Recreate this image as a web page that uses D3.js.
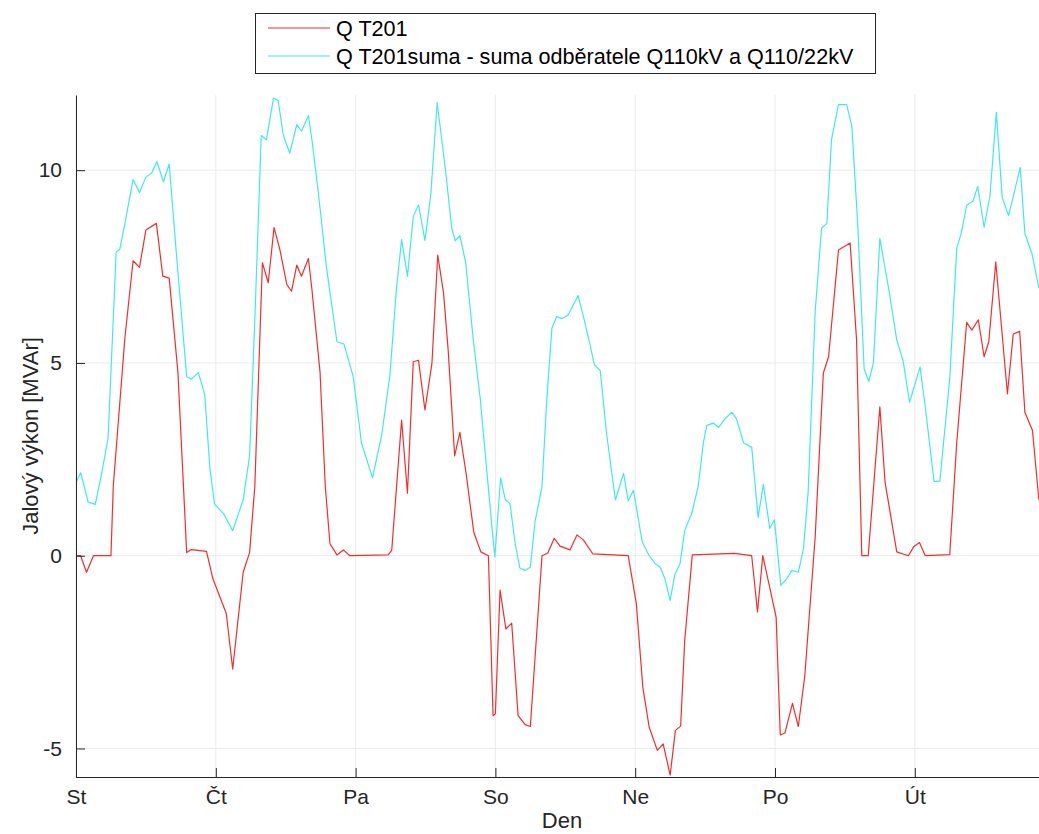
<!DOCTYPE html>
<html>
<head>
<meta charset="utf-8">
<script src="https://cdn.jsdelivr.net/npm/d3@7/dist/d3.min.js"></script>
<style>
  html, body { margin: 0; padding: 0; background: #fff; }
  svg { display: block; font-family: "Liberation Sans", Arial, Helvetica, sans-serif; }
</style>
</head>
<body>
<svg id="chart" width="1039" height="834"></svg>
<script>
// Day-of-week ticks (hours from start of the week)
const dayLabels = ["St", "Čt", "Pa", "So", "Ne", "Po", "Út"];
const dayTickHours = [0, 24, 48, 72, 96, 120, 144];
const yTickValues = [-5, 0, 5, 10];

// Q T201 (hours, MVAr)
const redHours = [0, 0.8, 1.8, 3, 6, 6.4, 8.4, 9.8, 10.9, 12, 13.8, 14.9, 16, 17.5, 19, 19.8, 22.4, 23.5, 25.8, 26.9,
  28.7, 29.8, 30.7, 32, 33, 34, 35, 36.2, 37, 37.9, 38.7, 39.9, 40.5, 41.9, 42.8, 43.6, 44.8, 45.9, 47, 53.6,
  54.2, 55.9, 56.9, 57.9, 58.8, 59.9, 61.1, 62.1, 63.1, 63.9, 65, 65.9, 67, 68.3, 69.5, 70.8, 71.6, 72, 72.8, 73.8,
  74.8, 75.9, 77.1, 78, 80, 81, 82.1, 83.1, 84.8, 86, 87.1, 88.7, 94.8, 96.2, 97.3, 98.4, 99.8, 100.8, 102, 102.9,
  103.8, 104.5, 105.8, 113, 116, 117, 117.9, 119.1, 120.2, 120.9, 121.7, 123, 124, 125.1, 126.9, 128.3, 129.2, 130.9, 132.9, 134,
  134.9, 136, 138, 138.9, 140.9, 142.9, 143.8, 144.8, 145.8, 150, 151.2, 152.9, 153.8, 154.9, 155.9, 156.7, 157.9, 159.9, 160.9, 162,
  162.9, 164.2, 165.3];
const redValues = [0, 0, -0.43, 0, 0, 1.8, 5.66, 7.65, 7.48, 8.45, 8.62, 7.25, 7.2, 4.75, 0.08, 0.16, 0.11, -0.6, -1.5, -2.94,
  -0.43, 0.08, 1.8, 7.6, 7.08, 8.51, 7.94, 7.03, 6.86, 7.54, 7.25, 7.71, 6.91, 4.75, 1.79, 0.31, 0.02, 0.15, 0, 0.02,
  0.14, 3.52, 1.62, 5.03, 5.07, 3.78, 4.98, 7.8, 6.81, 5.32, 2.59, 3.2, 2.1, 0.6, 0.1, 0, -4.15, -4.1, -0.89, -1.9,
  -1.75, -4.15, -4.38, -4.43, 0, 0.07, 0.45, 0.25, 0.15, 0.54, 0.41, 0.05, 0, -1.25, -3.4, -4.45, -5.05, -4.88, -5.69, -4.53,
  -4.42, -2.2, 0.02, 0.06, 0, -1.46, 0, -0.83, -1.6, -4.65, -4.6, -3.83, -4.43, -3.14, 0.49, 4.74, 5.16, 7.93, 8.11, 5.6,
  0, 0, 3.86, 1.9, 0.1, 0, 0.23, 0.34, 0, 0.03, 2.93, 6.05, 5.85, 6.12, 5.16, 5.55, 7.62, 4.2, 5.75, 5.82,
  3.72, 3.25, 1.45];

// Q T201suma - suma odběratele Q110kV a Q110/22kV (hours, MVAr)
const cyanHours = [0, 0.8, 2.1, 3.3, 4.4, 5.5, 6.9, 7.5, 8.4, 9.8, 10.9, 12, 13, 13.9, 15, 16, 17.3, 19, 19.8, 21,
  22.1, 23, 23.8, 25.3, 26.9, 28.7, 29.8, 30.7, 31.8, 32.7, 33.9, 34.7, 35.6, 36.7, 37.9, 38.7, 39.9, 40.5, 41.6, 43,
  44.8, 46, 47.6, 49, 50.9, 52.5, 53.9, 55, 55.9, 56.9, 57.9, 58.8, 59.9, 60.9, 62, 63.4, 64.5, 65.1, 65.9, 66.9,
  68.2, 69.4, 70.5, 71.4, 71.9, 72.9, 73.7, 74.5, 75.4, 76.2, 77.1, 78, 78.8, 80, 80.8, 81.7, 82.5, 83.5, 84.5, 86.2,
  87.2, 88.3, 89, 90, 91.1, 92.6, 94, 94.8, 95.7, 97.2, 98.4, 99.4, 100.3, 101.1, 102, 102.8, 103.7, 104.5, 105.7, 106.8,
  107.7, 108.3, 109.4, 110.3, 111.4, 112.6, 113.4, 114.6, 116, 117.1, 118, 119.1, 119.9, 121, 122, 122.9, 124, 124.9, 125.7, 126.9,
  128, 128.9, 129.7, 130.9, 132.3, 133.2, 134.2, 135.3, 136.1, 136.9, 138, 139.6, 140.9, 142, 143.1, 144.9, 145.8, 147.3, 148.3, 150,
  151.2, 152, 152.9, 154, 154.8, 155.9, 156.9, 158, 159, 160.1, 162.1, 162.9, 164.1, 165.3];
const cyanValues = [1.9, 2.15, 1.39, 1.33, 2.13, 3.04, 7.88, 7.94, 8.62, 9.76, 9.42, 9.82, 9.93, 10.22, 9.7, 10.16, 7.71, 4.64, 4.58, 4.75,
  4.18, 2.24, 1.33, 1.1, 0.65, 1.45, 2.59, 6.12, 10.9, 10.79, 11.87, 11.81, 10.9, 10.44, 11.18, 11.01, 11.41, 10.79, 9.42, 7.48,
  5.55, 5.49, 4.64, 2.93, 2.02, 3.15, 4.7, 6.91, 8.2, 7.25, 8.8, 9.1, 8.18, 9.35, 11.75, 10.05, 8.5, 8.17, 8.3, 7.6,
  5.6, 4.07, 2.24, 0.76, -0.03, 2.02, 1.45, 1.35, 0.31, -0.32, -0.38, -0.3, 0.88, 1.79, 4.0, 5.9, 6.2, 6.15, 6.25, 6.75,
  6.15, 5.43, 4.95, 4.8, 3.15, 1.45, 2.14, 1.42, 1.7, 0.36, 0.0, -0.2, -0.3, -0.6, -1.16, -0.49, -0.2, 0.65, 1.1, 1.79,
  2.93, 3.38, 3.44, 3.33, 3.55, 3.72, 3.55, 2.93, 2.81, 0.99, 1.85, 0.71, 0.93, -0.77, -0.6, -0.38, -0.43, 0.19, 1.67, 6.34,
  8.5, 8.62, 10.79, 11.7, 11.7, 11.13, 8.6, 4.85, 4.52, 5.0, 8.23, 6.85, 5.6, 5.05, 3.98, 4.9, 3.85, 1.93, 1.93, 4.6,
  7.98, 8.38, 9.09, 9.2, 9.58, 8.52, 9.33, 11.5, 9.3, 8.82, 10.07, 8.35, 7.84, 6.95];

const seriesNames = ["Q T201", "Q T201suma - suma odběratele Q110kV a Q110/22kV"];
const seriesColors = ["#f42c2c", "#3eeaea"];

const svg = d3.select("#chart");
const W = 1039, H = 834;
const plot = { left: 76, top: 95, bottom: 777 };
const tickFont = "21px";
const titleFont = "22px";
const legendFont = "21.6px";

// One week on the x axis; the figure is cut at the right edge
const x = d3.scaleLinear().domain([0, 168]).range([plot.left, plot.left + 168 * 5.825]);
const y = d3.scaleLinear().domain([-5.74, 11.95]).range([plot.bottom, plot.top]);

const axisColor = "#262626";
const gridColor = "#ebebeb";

svg.append("defs").append("clipPath").attr("id", "plotClip")
  .append("rect")
  .attr("x", plot.left).attr("y", plot.top)
  .attr("width", W - plot.left).attr("height", plot.bottom - plot.top);

// Grid
const grid = svg.append("g");
grid.selectAll("line.v").data(dayTickHours).join("line")
  .attr("x1", d => x(d)).attr("x2", d => x(d))
  .attr("y1", plot.top).attr("y2", plot.bottom)
  .attr("stroke", gridColor).attr("stroke-width", 1);
grid.selectAll("line.h").data(yTickValues).join("line")
  .attr("x1", plot.left).attr("x2", W)
  .attr("y1", d => y(d)).attr("y2", d => y(d))
  .attr("stroke", gridColor).attr("stroke-width", 1);

// Series lines
const lineGen = d3.line().x(d => x(d[0])).y(d => y(d[1]));
const redPts = redHours.map((h, i) => [h, redValues[i]]);
const cyanPts = cyanHours.map((h, i) => [h, cyanValues[i]]);
const lines = svg.append("g").attr("clip-path", "url(#plotClip)");
lines.append("path").datum(redPts)
  .attr("d", lineGen).attr("fill", "none")
  .attr("stroke", seriesColors[0]).attr("stroke-width", 1.2).attr("stroke-linejoin", "round");
lines.append("path").datum(cyanPts)
  .attr("d", lineGen).attr("fill", "none")
  .attr("stroke", seriesColors[1]).attr("stroke-width", 1.2).attr("stroke-linejoin", "round");

// Axes
const xAxis = d3.axisBottom(x).tickValues(dayTickHours)
  .tickFormat((d, i) => dayLabels[i]).tickSizeInner(-9).tickSizeOuter(0).tickPadding(12);
const gx = svg.append("g").attr("transform", `translate(0,${plot.bottom})`).call(xAxis);
gx.select(".domain").attr("d", `M${plot.left},0.5H${W}`);

const yAxis = d3.axisLeft(y).tickValues(yTickValues)
  .tickFormat(d => String(d))
  .tickSizeInner(-9).tickSizeOuter(0).tickPadding(14);
const gy = svg.append("g").attr("transform", `translate(${plot.left},0)`).call(yAxis);

[gx, gy].forEach(g => {
  g.select(".domain").attr("stroke", axisColor).attr("stroke-width", 1);
  g.selectAll(".tick line").attr("stroke", axisColor).attr("stroke-width", 1);
  g.selectAll(".tick text").attr("fill", axisColor)
    .style("font-size", tickFont).style("font-family", "'Liberation Sans', Arial, sans-serif");
});

// Axis titles
svg.append("text")
  .attr("x", 562).attr("y", 828)
  .attr("text-anchor", "middle").attr("fill", axisColor)
  .style("font-size", titleFont).text("Den");
svg.append("text")
  .attr("transform", `translate(38,${(plot.top + plot.bottom) / 2}) rotate(-90)`)
  .attr("text-anchor", "middle").attr("fill", axisColor)
  .style("font-size", titleFont).text("Jalový výkon [MVAr]");

// Legend
const legend = svg.append("g");
legend.append("rect")
  .attr("x", 255.5).attr("y", 13.5).attr("width", 620).attr("height", 60)
  .attr("fill", "#fff").attr("stroke", axisColor).attr("stroke-width", 1);
const rowY = [28, 56];
seriesNames.forEach((name, i) => {
  legend.append("line")
    .attr("x1", 268).attr("x2", 330).attr("y1", rowY[i]).attr("y2", rowY[i])
    .attr("stroke", seriesColors[i]).attr("stroke-width", 1.2);
  legend.append("text")
    .attr("x", 336).attr("y", rowY[i]).attr("dy", "0.36em")
    .attr("fill", "#000").style("font-size", legendFont).text(name);
});
</script>
</body>
</html>
